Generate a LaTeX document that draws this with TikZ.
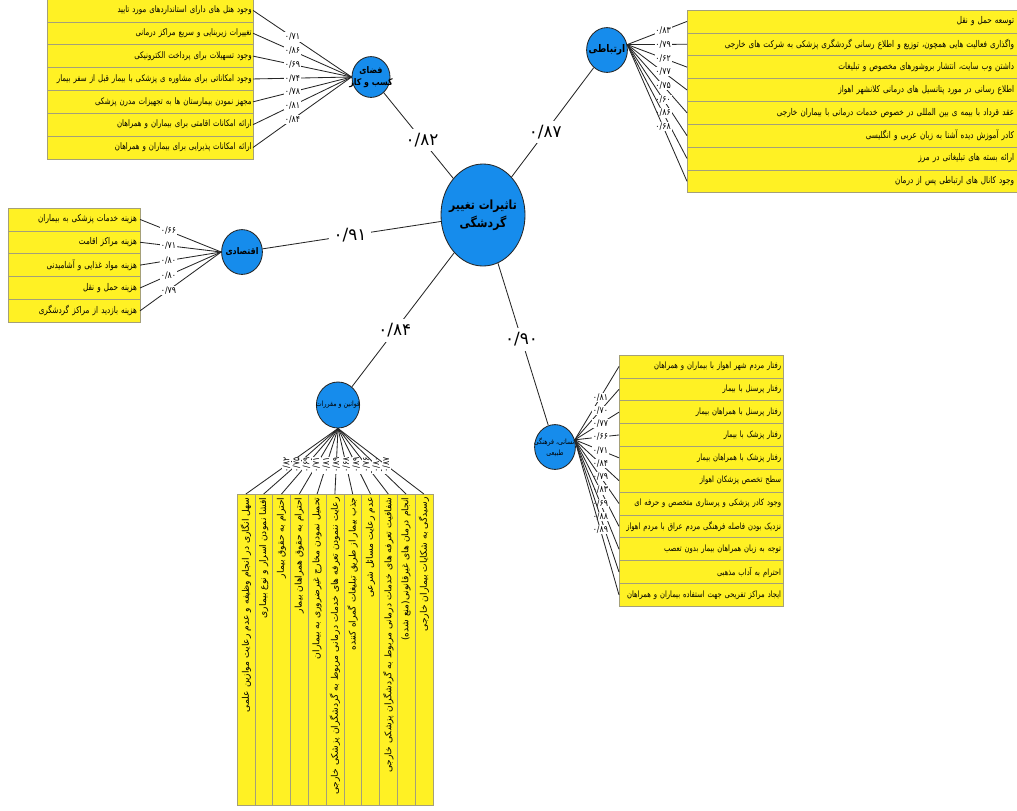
\documentclass[tikz,border=0pt]{standalone}
\usepackage{fontspec}
\usepackage{tikz}
\usetikzlibrary{shapes,positioning}
\TeXXeTstate=1
\newfontfamily\fa[Script=Arabic]{DejaVu Sans}
\newfontfamily\faRow[Script=Arabic, FakeStretch=0.78]{DejaVu Sans}
\newfontfamily\faHub[Script=Arabic, FakeStretch=0.86]{DejaVu Sans}
\definecolor{rowYellow}{RGB}{255,241,36}
\definecolor{rowLine}{RGB}{165,160,120}
\definecolor{hubBlue}{RGB}{22,140,236}
\tikzset{
    hub/.style = {draw=black!85, fill=hubBlue, ellipse, line width=0.6pt,
        inner sep=0pt, minimum width=1.02cm, minimum height=1.12cm},
    hubText/.style = {align=center, inner sep=0pt},
    row/.style = {draw=rowLine, fill=rowYellow, rectangle, outer sep=0pt,
        minimum height=0.571cm, inner xsep=0pt, inner ysep=1pt,
        align=right, font=\faRow\fontsize{6.6}{7.5}\selectfont},
    bizRow/.style = {row, minimum width=5.15cm, text width=5.08cm,
        font=\faRow\fontsize{6.4}{7.5}\selectfont},
    commRow/.style = {row, minimum width=8.575cm, text width=7.775cm},
    econRow/.style = {row, minimum width=3.3cm, text width=3.15cm},
    cultRow/.style = {row, minimum width=4.1cm, text width=4.0cm,
        font=\faRow\fontsize{6.2}{7}\selectfont},
    lawCol/.style = {row, rotate=90, anchor=east, minimum width=7.775cm,
        minimum height=0.445cm, text width=7.6cm,
        font=\fa\fontsize{6.5}{7}\selectfont},
    num/.style = {fill=white, inner sep=0.6pt, font=\faHub\fontsize{6.5}{7}\selectfont},
    numV/.style = {num, rotate=90},
    bigNum/.style = {fill=white, inner sep=3pt, font=\fa\fontsize{12}{14}\selectfont},
    spoke/.style = {draw=black!85, line width=0.6pt},
}

\begin{document}
\begin{tikzpicture}[node distance=0pt, x=0.025cm, y=-0.025cm]
	\useasboundingbox (0,0) rectangle (1017,810);

	% hubs
	\node [hub, minimum width=2.1cm, minimum height=2.55cm, name=tourHub,
		label={[hubText, font=\faHub\bfseries\fontsize{9}{13}\selectfont]center:{\beginR تاثیرات تغییر\endR\\\beginR گردشگی\endR}}]
		at (483,215) {};
	\node [hub, minimum width=0.95cm, minimum height=1.02cm, name=bizSp,
		label={[hubText, font=\faHub\bfseries\fontsize{6.5}{9}\selectfont]center:{\beginR فضای\endR\\\beginR کسب و کار\endR}}]
		at (371,77) {};
	\node [hub, name=commSp,
		label={[hubText, font=\faHub\bfseries\fontsize{7.5}{9}\selectfont]center:{\beginR ارتباطی\endR}}]
		at (607,50) {};
	\node [hub, name=econSp,
		label={[hubText, font=\faHub\bfseries\fontsize{6.5}{8}\selectfont]center:{\beginR اقتصادی\endR}}]
		at (242,252) {};
	\node [hub, minimum width=1.08cm, minimum height=1.15cm, name=lawSp,
		label={[hubText, font=\faHub\fontsize{5.2}{6}\selectfont]center:{\beginR قوانین و مقررات\endR}}]
		at (338,405) {};
	\node [hub, name=cultSp,
		label={[hubText, font=\faHub\fontsize{5.2}{8}\selectfont]center:{\beginR انسانی، فرهنگی\endR\\\beginR طبیعی\endR}}]
		at (555,447) {};

	% hub to hub
	\draw [spoke] (tourHub) -- node [bigNum, pos=0.45] {۰/۸۲} (bizSp);
	\draw [spoke] (tourHub) -- node [bigNum, pos=0.41] {۰/۸۷} (commSp);
	\draw [spoke] (tourHub) -- node [bigNum, pos=0.51] {۰/۹۱} (econSp);
	\draw [spoke] (tourHub) -- node [bigNum, pos=0.58] {۰/۸۴} (lawSp);
	\draw [spoke] (tourHub) -- node [bigNum, pos=0.47] {۰/۹۰} (cultSp);

	% business rows
	\node [bizRow, anchor=north west, name=biz1] at (47,-1) {\beginR وجود هتل های دارای استانداردهای مورد تایید\endR};
	\node [bizRow, below=of biz1, name=biz2] {\beginR تغییرات زیربنایی و سریع مراکز درمانی\endR};
	\node [bizRow, below=of biz2, name=biz3] {\beginR وجود تسهیلات برای پرداخت الکترونیکی\endR};
	\node [bizRow, below=of biz3, name=biz4] {\beginR وجود امکاناتی برای مشاوره ی پزشکی با بیمار قبل از سفر بیمار\endR};
	\node [bizRow, below=of biz4, name=biz5] {\beginR مجهز نمودن بیمارستان ها به تجهیزات مدرن پزشکی\endR};
	\node [bizRow, below=of biz5, name=biz6] {\beginR ارائه امکانات اقامتی برای بیماران و همراهان\endR};
	\node [bizRow, below=of biz6, name=biz7] {\beginR ارائه امکانات پذیرایی برای بیماران و همراهان\endR};

	% communication rows
	\node [commRow, anchor=north west, name=comm1] at (687,10) {\beginR توسعه حمل و نقل\endR};
	\node [commRow, below=of comm1, name=comm2] {\beginR واگذاری فعالیت هایی همچون، توزیع و اطلاع رسانی گردشگری پزشکی به شرکت های خارجی\endR};
	\node [commRow, below=of comm2, name=comm3] {\beginR داشتن وب سایت، انتشار بروشورهای مخصوص و تبلیغات\endR};
	\node [commRow, below=of comm3, name=comm4] {\beginR اطلاع رسانی در مورد پتانسیل های درمانی کلانشهر اهواز\endR};
	\node [commRow, below=of comm4, name=comm5] {\beginR عقد قرداد با بیمه ی بین المللی در خصوص خدمات درمانی با بیماران خارجی\endR};
	\node [commRow, below=of comm5, name=comm6] {\beginR کادر آموزش دیده آشنا به زبان عربی و انگلیسی\endR};
	\node [commRow, below=of comm6, name=comm7] {\beginR ارائه بسته های تبلیغاتی در مرز\endR};
	\node [commRow, below=of comm7, name=comm8] {\beginR وجود کانال های ارتباطی پس از درمان\endR};

	% economic rows
	\node [econRow, anchor=north west, name=econ1] at (8,208) {\beginR هزینه خدمات پزشکی به بیماران\endR};
	\node [econRow, below=of econ1, name=econ2] {\beginR هزینه مراکز اقامت\endR};
	\node [econRow, below=of econ2, name=econ3] {\beginR هزینه مواد غذایی و آشامیدنی\endR};
	\node [econRow, below=of econ3, name=econ4] {\beginR هزینه حمل و نقل\endR};
	\node [econRow, below=of econ4, name=econ5] {\beginR هزینه بازدید از مراکز گردشگری\endR};

	% cultural rows
	\node [cultRow, anchor=north west, name=cult1] at (619,355) {\beginR رفتار مردم شهر اهواز با بیماران و همراهان\endR};
	\node [cultRow, below=of cult1, name=cult2] {\beginR رفتار پرسنل با بیمار\endR};
	\node [cultRow, below=of cult2, name=cult3] {\beginR رفتار پرسنل با همراهان بیمار\endR};
	\node [cultRow, below=of cult3, name=cult4] {\beginR رفتار پزشک با بیمار\endR};
	\node [cultRow, below=of cult4, name=cult5] {\beginR رفتار پزشک با همراهان بیمار\endR};
	\node [cultRow, below=of cult5, name=cult6] {\beginR سطح تخصص پزشکان اهواز\endR};
	\node [cultRow, below=of cult6, name=cult7] {\beginR وجود کادر پزشکی و پرستاری متخصص و حرفه ای\endR};
	\node [cultRow, below=of cult7, name=cult8] {\beginR نزدیک بودن فاصله فرهنگی مردم عراق با مردم اهواز\endR};
	\node [cultRow, below=of cult8, name=cult9] {\beginR توجه به زبان همراهان بیمار بدون تعصب\endR};
	\node [cultRow, below=of cult9, name=cult10] {\beginR احترام به آداب مذهبی\endR};
	\node [cultRow, below=of cult10, name=cult11] {\beginR ایجاد مراکز تفریحی جهت استفاده بیماران و همراهان\endR};

	% law columns
	\node [lawCol, name=law1] at (245.9,494) {\beginR سهل انگاری در انجام وظیفه و عدم رعایت موازین علمی\endR};
	\node [lawCol, name=law2] at (263.7,494) {\beginR افشا نمودن اسرار و نوع بیماری\endR};
	\node [lawCol, name=law3] at (281.5,494) {\beginR احترام به حقوق بیمار\endR};
	\node [lawCol, name=law4] at (299.3,494) {\beginR احترام به حقوق همراهان بیمار\endR};
	\node [lawCol, name=law5] at (317.1,494) {\beginR تحمیل نمودن مخارج غیرضروری به بیماران\endR};
	\node [lawCol, name=law6] at (334.9,494) {\beginR رعایت ننمودن تعرفه های خدمات درمانی مربوط به گردشگران پزشکی خارجی\endR};
	\node [lawCol, name=law7] at (352.7,494) {\beginR جذب بیمار از طریق تبلیغات گمراه کننده\endR};
	\node [lawCol, name=law8] at (370.5,494) {\beginR عدم رعایت مسائل شرعی\endR};
	\node [lawCol, name=law9] at (388.3,494) {\beginR شفافیت تعرفه های خدمات درمانی مربوط به گردشگران پزشکی خارجی\endR};
	\node [lawCol, name=law10] at (406.1,494) {\beginR انجام درمان های غیرقانونی(منع شده)\endR};
	\node [lawCol, name=law11] at (423.9,494) {\beginR رسیدگی به شکایات بیماران خارجی\endR};

	%%lines
	\draw [spoke] (bizSp.west) -- node [num, pos=0.6] {۰/۷۱} (biz1.east);
	\draw [spoke] (bizSp.west) -- node [num, pos=0.6] {۰/۸۶} (biz2.east);
	\draw [spoke] (bizSp.west) -- node [num, pos=0.6] {۰/۶۹} (biz3.east);
	\draw [spoke] (bizSp.west) -- node [num, pos=0.6] {۰/۷۴} (biz4.east);
	\draw [spoke] (bizSp.west) -- node [num, pos=0.6] {۰/۷۸} (biz5.east);
	\draw [spoke] (bizSp.west) -- node [num, pos=0.6] {۰/۸۱} (biz6.east);
	\draw [spoke] (bizSp.west) -- node [num, pos=0.6] {۰/۸۴} (biz7.east);

	\draw [spoke] (commSp.15) -- node [num, pos=0.6] {۰/۸۳} (comm1.west);
	\draw [spoke] (commSp.15) -- node [num, pos=0.6] {۰/۷۹} (comm2.west);
	\draw [spoke] (commSp.15) -- node [num, pos=0.6] {۰/۶۲} (comm3.west);
	\draw [spoke] (commSp.15) -- node [num, pos=0.6] {۰/۷۷} (comm4.west);
	\draw [spoke] (commSp.15) -- node [num, pos=0.6] {۰/۷۵} (comm5.west);
	\draw [spoke] (commSp.15) -- node [num, pos=0.6] {۰/۶۰} (comm6.west);
	\draw [spoke] (commSp.15) -- node [num, pos=0.6] {۰/۸۶} (comm7.west);
	\draw [spoke] (commSp.15) -- node [num, pos=0.6] {۰/۶۸} (comm8.west);

	\draw [spoke] (econSp.west) -- node [num, pos=0.65] {۰/۶۶} (econ1.east);
	\draw [spoke] (econSp.west) -- node [num, pos=0.65] {۰/۷۱} (econ2.east);
	\draw [spoke] (econSp.west) -- node [num, pos=0.65] {۰/۸۰} (econ3.east);
	\draw [spoke] (econSp.west) -- node [num, pos=0.65] {۰/۸۰} (econ4.east);
	\draw [spoke] (econSp.west) -- node [num, pos=0.65] {۰/۷۹} (econ5.east);

	\draw [spoke] (cultSp.20) -- node [num, pos=0.58] {۰/۸۱} (cult1.west);
	\draw [spoke] (cultSp.20) -- node [num, pos=0.58] {۰/۷۰} (cult2.west);
	\draw [spoke] (cultSp.20) -- node [num, pos=0.58] {۰/۷۷} (cult3.west);
	\draw [spoke] (cultSp.20) -- node [num, pos=0.58] {۰/۶۶} (cult4.west);
	\draw [spoke] (cultSp.20) -- node [num, pos=0.58] {۰/۷۱} (cult5.west);
	\draw [spoke] (cultSp.20) -- node [num, pos=0.58] {۰/۸۴} (cult6.west);
	\draw [spoke] (cultSp.20) -- node [num, pos=0.58] {۰/۷۹} (cult7.west);
	\draw [spoke] (cultSp.20) -- node [num, pos=0.58] {۰/۸۳} (cult8.west);
	\draw [spoke] (cultSp.20) -- node [num, pos=0.58] {۰/۶۹} (cult9.west);
	\draw [spoke] (cultSp.20) -- node [num, pos=0.58] {۰/۸۸} (cult10.west);
	\draw [spoke] (cultSp.20) -- node [num, pos=0.58] {۰/۸۹} (cult11.west);

	\draw [spoke] (lawSp.south) -- node [numV, pos=0.56] {۰/۸۲} (law1.east);
	\draw [spoke] (lawSp.south) -- node [numV, pos=0.56] {۰/۷۵} (law2.east);
	\draw [spoke] (lawSp.south) -- node [numV, pos=0.56] {۰/۶۹} (law3.east);
	\draw [spoke] (lawSp.south) -- node [numV, pos=0.56] {۰/۷۱} (law4.east);
	\draw [spoke] (lawSp.south) -- node [numV, pos=0.56] {۰/۸۱} (law5.east);
	\draw [spoke] (lawSp.south) -- node [numV, pos=0.56] {۰/۸۹} (law6.east);
	\draw [spoke] (lawSp.south) -- node [numV, pos=0.56] {۰/۶۸} (law7.east);
	\draw [spoke] (lawSp.south) -- node [numV, pos=0.56] {۰/۸۹} (law8.east);
	\draw [spoke] (lawSp.south) -- node [numV, pos=0.56] {۰/۷۶} (law9.east);
	\draw [spoke] (lawSp.south) -- node [numV, pos=0.56] {۰/۸۰} (law10.east);
	\draw [spoke] (lawSp.south) -- node [numV, pos=0.56] {۰/۸۷} (law11.east);
\end{tikzpicture}
\end{document}
